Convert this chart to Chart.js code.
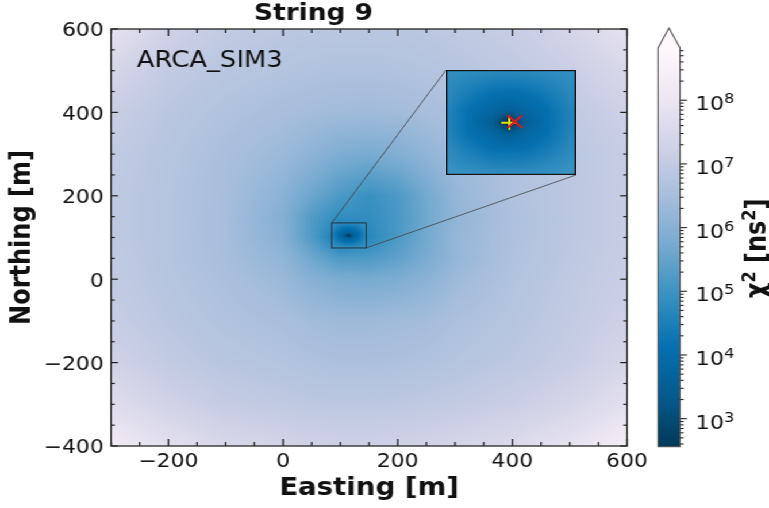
<!DOCTYPE html>
<html>
<head>
<meta charset="utf-8">
<title>String 9</title>
<script src="https://cdn.jsdelivr.net/npm/chart.js@4.4.1/dist/chart.umd.min.js"></script>
<style>
  html, body { margin: 0; padding: 0; background: #fff; overflow: hidden; }
  /* the figure is laid out 669px wide and stretched to fill 769px */
  #figure { position: relative; width: 669px; height: 508px; transform: scale(1.1495, 1); transform-origin: 0 0; }
  #figure canvas { position: absolute; }
</style>
</head>
<body>
<div id="figure">
  <canvas id="main" width="669" height="508" style="left:0;top:0;width:669px;height:508px"></canvas>
  <canvas id="cbar" width="109" height="508" style="left:560px;top:0;width:109px;height:508px"></canvas>
  <canvas id="inset" width="113" height="105" style="left:388px;top:70px;width:113px;height:105px"></canvas>
</div>
<script>
// axes
const xRange = [-300, 600];
const yRange = [-400, 600];
const xTicks = [-200, 0, 200, 400, 600];
const yTicks = [-400, -200, 0, 200, 400, 600];
const minorStep = 50;

// log10(chi2 / ns^2) on the full scan, rows from north to south
const gridX = [-300, -200, -100, 0, 50, 100, 150, 200, 250, 300, 400, 500, 600];
const gridY = [600, 500, 400, 300, 200, 150, 100, 50, 0, -100, -200, -300, -400];
const logChi2 = [
  [7.90, 7.30, 7.00, 6.90, 6.85, 6.85, 6.85, 6.85, 6.88, 6.95, 7.10, 7.40, 7.90],
  [7.45, 7.00, 6.82, 6.72, 6.68, 6.65, 6.65, 6.68, 6.72, 6.78, 6.95, 7.15, 7.50],
  [7.15, 6.85, 6.68, 6.52, 6.45, 6.40, 6.38, 6.42, 6.50, 6.60, 6.80, 6.95, 7.25],
  [7.00, 6.78, 6.55, 6.32, 6.10, 5.85, 5.78, 5.90, 6.15, 6.38, 6.65, 6.85, 7.10],
  [6.95, 6.75, 6.52, 6.05, 5.60, 5.20, 4.95, 5.20, 5.70, 6.20, 6.65, 6.88, 7.10],
  [6.95, 6.75, 6.50, 5.95, 5.25, 4.85, 4.85, 5.15, 5.65, 6.15, 6.62, 6.88, 7.10],
  [6.95, 6.75, 6.50, 6.00, 5.25, 4.30, 4.70, 5.20, 5.70, 6.20, 6.63, 6.88, 7.10],
  [7.00, 6.75, 6.52, 6.15, 5.65, 5.20, 5.20, 5.45, 5.80, 6.20, 6.65, 6.90, 7.12],
  [7.00, 6.78, 6.58, 6.30, 6.00, 5.80, 5.75, 5.85, 6.05, 6.35, 6.70, 6.95, 7.15],
  [7.10, 6.85, 6.68, 6.55, 6.42, 6.35, 6.35, 6.40, 6.45, 6.60, 6.78, 7.00, 7.25],
  [7.30, 7.00, 6.82, 6.72, 6.65, 6.60, 6.60, 6.62, 6.67, 6.75, 6.90, 7.10, 7.45],
  [7.70, 7.30, 7.05, 6.95, 6.90, 6.88, 6.88, 6.90, 6.95, 7.00, 7.15, 7.40, 7.80],
  [8.20, 7.80, 7.50, 7.35, 7.28, 7.25, 7.25, 7.28, 7.32, 7.40, 7.60, 7.90, 8.30]
];

// finer scan around the minimum (zoomed window)
const zoomX = [85, 95, 107, 114, 121, 131, 145];
const zoomY = [135, 120, 112, 105, 98, 90, 75];
const zoomLogChi2 = [
  [4.90, 4.84, 4.78, 4.76, 4.78, 4.83, 4.91],
  [4.76, 4.40, 4.06, 4.02, 4.06, 4.32, 4.79],
  [4.66, 4.15, 3.78, 3.52, 3.78, 4.08, 4.71],
  [4.63, 4.11, 3.45, 2.20, 3.45, 4.04, 4.68],
  [4.69, 4.18, 3.81, 3.55, 3.81, 4.11, 4.74],
  [4.81, 4.45, 4.11, 4.07, 4.11, 4.37, 4.84],
  [5.00, 4.94, 4.88, 4.86, 4.88, 4.93, 5.01]
];

const truePos = [114.2, 104.9];
const fitPos = [116.8, 105.5];

// colour bar
const cbLogRange = [2.56, 8.82];
const cbDecades = [3, 4, 5, 6, 7, 8];

const FONT = "'DejaVu Sans', sans-serif";
const INK = '#111';
const PuBu = ['#fff7fb', '#ece7f2', '#d0d1e6', '#a6bddb', '#74a9cf', '#3690c0', '#0570b0', '#045a8d', '#023858'];
const PuBuRGB = PuBu.map(h => [1, 3, 5].map(i => parseInt(h.slice(i, i + 2), 16)));

// PuBu reversed, log normalised
function chiColor(L) {
  let t = (L - cbLogRange[0]) / (cbLogRange[1] - cbLogRange[0]);
  t = Math.min(1, Math.max(0, t));
  const f = (1 - t) * (PuBuRGB.length - 1);
  const i = Math.min(Math.floor(f), PuBuRGB.length - 2);
  const u = f - i, a = PuBuRGB[i], b = PuBuRGB[i + 1];
  return [a[0] + (b[0] - a[0]) * u, a[1] + (b[1] - a[1]) * u, a[2] + (b[2] - a[2]) * u];
}
const css = c => `rgb(${Math.round(c[0])},${Math.round(c[1])},${Math.round(c[2])})`;

function locate(nodes, v) {
  const n = nodes.length, asc = nodes[n - 1] > nodes[0];
  for (let i = 0; i < n - 1; i++) {
    const a = nodes[i], b = nodes[i + 1];
    if ((asc ? v <= b : v >= b) || i === n - 2) {
      return [i, Math.min(1, Math.max(0, (v - a) / (b - a)))];
    }
  }
}

function sampleGrid(gx, gy, gz, x, y) {
  const [i, u] = locate(gx, x);
  const [j, w] = locate(gy, y);
  const top = gz[j][i] * (1 - u) + gz[j][i + 1] * u;
  const bot = gz[j + 1][i] * (1 - u) + gz[j + 1][i + 1] * u;
  return top * (1 - w) + bot * w;
}

const zx0 = Math.min(...zoomX), zx1 = Math.max(...zoomX);
const zy0 = Math.min(...zoomY), zy1 = Math.max(...zoomY);
const inZoom = (x, y) => x >= zx0 && x <= zx1 && y >= zy0 && y <= zy1;

// rasterise the chi2 map into the chart area through the chart's own scales
function paintField(chart, sampler) {
  const { ctx, chartArea: a, scales: { x, y } } = chart;
  const w = Math.round(a.width), h = Math.round(a.height);
  const off = document.createElement('canvas');
  off.width = w; off.height = h;
  const octx = off.getContext('2d');
  const img = octx.createImageData(w, h);
  for (let j = 0; j < h; j++) {
    const vy = y.getValueForPixel(a.top + (j + 0.5) * a.height / h);
    for (let i = 0; i < w; i++) {
      const vx = x.getValueForPixel(a.left + (i + 0.5) * a.width / w);
      const c = chiColor(sampler(vx, vy));
      const k = (j * w + i) * 4;
      img.data[k] = c[0]; img.data[k + 1] = c[1]; img.data[k + 2] = c[2]; img.data[k + 3] = 255;
    }
  }
  octx.putImageData(img, 0, 0);
  ctx.drawImage(off, a.left, a.top, a.width, a.height);
}

function line(ctx, x0, y0, x1, y1) {
  ctx.beginPath(); ctx.moveTo(x0, y0); ctx.lineTo(x1, y1); ctx.stroke();
}

// text with superscript runs: [[text, isSup], ...]
function runsWidth(ctx, runs, size, supSize, weight) {
  let w = 0;
  for (const [t, sup] of runs) {
    ctx.font = `${weight} ${sup ? supSize : size}px ${FONT}`;
    w += ctx.measureText(t).width;
  }
  return w;
}
function drawRuns(ctx, runs, x, y, size, supSize, rise, weight) {
  for (const [t, sup] of runs) {
    ctx.font = `${weight} ${sup ? supSize : size}px ${FONT}`;
    ctx.fillText(t, x, sup ? y - rise : y);
    x += ctx.measureText(t).width;
  }
}

const mainField = {
  id: 'mainField',
  beforeDatasetsDraw(chart) {
    paintField(chart, (x, y) => inZoom(x, y)
      ? sampleGrid(zoomX, zoomY, zoomLogChi2, x, y)
      : sampleGrid(gridX, gridY, logChi2, x, y));
  },
  afterDatasetsDraw(chart) {
    const { ctx, scales: { x, y } } = chart;
    const inset = document.getElementById('inset');
    const bx0 = x.getPixelForValue(zx0), bx1 = x.getPixelForValue(zx1);
    const by0 = y.getPixelForValue(zy1), by1 = y.getPixelForValue(zy0);
    ctx.save();
    ctx.strokeStyle = 'rgba(35,45,55,0.8)';
    ctx.lineWidth = 1.2;
    ctx.strokeRect(bx0, by0, bx1 - bx0, by1 - by0);
    ctx.strokeStyle = 'rgba(60,60,60,0.75)';
    ctx.lineWidth = 1;
    line(ctx, bx0, by0, inset.offsetLeft, inset.offsetTop);
    line(ctx, bx1, by1, inset.offsetLeft + inset.offsetWidth, inset.offsetTop + inset.offsetHeight);
    ctx.restore();
  },
  afterDraw(chart) {
    const { ctx, chartArea: a, scales: { x, y } } = chart;
    ctx.save();
    ctx.strokeStyle = '#222';
    ctx.lineWidth = 1.3;
    for (let v = xRange[0]; v <= xRange[1]; v += minorStep) {
      const px = x.getPixelForValue(v);
      const len = xTicks.includes(v) ? 7 : 4;
      line(ctx, px, a.bottom, px, a.bottom - len);
      line(ctx, px, a.top, px, a.top + len);
    }
    ctx.lineWidth = 1.2;
    for (let v = yRange[0]; v <= yRange[1]; v += minorStep) {
      const py = y.getPixelForValue(v);
      const len = yTicks.includes(v) ? 6.1 : 3.2;
      line(ctx, a.left, py, a.left + len, py);
      line(ctx, a.right, py, a.right - len, py);
    }
    ctx.lineWidth = 1.3;
    ctx.strokeStyle = '#262626';
    ctx.strokeRect(a.left, a.top, a.width, a.height);
    ctx.fillStyle = INK;
    ctx.font = `22.5px ${FONT}`;
    ctx.textBaseline = 'alphabetic';
    ctx.fillText('ARCA_SIM3', a.left + 22.5, a.top + 37.7);
    ctx.restore();
  }
};

const insetField = {
  id: 'insetField',
  beforeDatasetsDraw(chart) {
    paintField(chart, (x, y) => sampleGrid(zoomX, zoomY, zoomLogChi2, x, y));
  },
  afterDraw(chart) {
    const { ctx, width, height } = chart;
    ctx.save();
    ctx.strokeStyle = '#151515';
    ctx.lineWidth = 1.2;
    ctx.strokeRect(0.6, 0.6, width - 1.2, height - 1.2);
    ctx.restore();
  }
};

const colorbar = {
  id: 'colorbar',
  afterDraw(chart) {
    const { ctx, chartArea: a, scales: { y } } = chart;
    const tip = 20, mid = (a.left + a.right) / 2;
    ctx.save();
    ctx.save();
    ctx.beginPath(); ctx.rect(a.left, a.top, a.width, a.height); ctx.clip();
    for (let py = Math.floor(a.top); py < a.bottom; py++) {
      ctx.fillStyle = css(chiColor(Math.log10(y.getValueForPixel(py + 0.5))));
      ctx.fillRect(a.left, py, a.width, 1.5);
    }
    ctx.restore();
    // extension for values above the top of the scale
    ctx.fillStyle = css(chiColor(cbLogRange[1] + 1));
    ctx.beginPath();
    ctx.moveTo(a.left, a.top); ctx.lineTo(mid, a.top - tip); ctx.lineTo(a.right, a.top); ctx.closePath();
    ctx.fill();
    ctx.strokeStyle = '#555';
    ctx.lineWidth = 1.1;
    ctx.beginPath();
    ctx.moveTo(a.left, a.bottom); ctx.lineTo(a.left, a.top); ctx.lineTo(mid, a.top - tip);
    ctx.lineTo(a.right, a.top); ctx.lineTo(a.right, a.bottom); ctx.closePath();
    ctx.stroke();

    // log ticks on the right edge
    ctx.strokeStyle = '#222';
    ctx.lineWidth = 1.1;
    const lo = Math.floor(cbLogRange[0]), hi = Math.ceil(cbLogRange[1]);
    for (let n = lo; n <= hi; n++) {
      for (let k = 1; k <= 9; k++) {
        const L = n + Math.log10(k);
        if (L < cbLogRange[0] || L > cbLogRange[1]) continue;
        const py = y.getPixelForValue(10 ** L);
        line(ctx, a.right, py, a.right + (k === 1 ? 6.1 : 3), py);
      }
    }
    ctx.fillStyle = INK;
    ctx.textBaseline = 'alphabetic';
    for (const n of cbDecades) {
      const py = y.getPixelForValue(10 ** n);
      drawRuns(ctx, [['10', false], [String(n), true]], a.right + 13.5, py + 10.2, 19.5, 14, 7.2, 'normal');
    }

    // colour bar label, reading upwards
    const runs = [['\u03c7', false], ['2', true], [' [ns', false], ['2', true], [']', false]];
    const w = runsWidth(ctx, runs, 24, 16, 'bold');
    ctx.translate(a.right + 74.5, (a.top + a.bottom) / 2 + 1);
    ctx.rotate(-Math.PI / 2);
    drawRuns(ctx, runs, -w / 2, 0, 24, 16, 9, 'bold');
    ctx.restore();
  }
};

const tickFont = { family: FONT, size: 19 };
const labelFont = { family: FONT, size: 24, weight: 'bold', lineHeight: 1.2 };
const minus = v => String(v).replace('-', '\u2212');
const quiet = { legend: { display: false }, tooltip: { enabled: false } };

new Chart(document.getElementById('main'), {
  type: 'scatter',
  data: { datasets: [] },
  options: {
    responsive: false, animation: false, events: [],
    layout: { autoPadding: false, padding: { left: 0, top: 0, right: 123.5, bottom: 0 } },
    plugins: {
      ...quiet,
      title: {
        display: true, text: 'String 9', color: INK,
        font: { family: FONT, size: 23, weight: 'bold', lineHeight: 1 },
        padding: { top: 3, bottom: 3 }
      }
    },
    scales: {
      x: {
        type: 'linear', min: xRange[0], max: xRange[1],
        grid: { display: false, drawTicks: false }, border: { display: false },
        afterBuildTicks: s => { s.ticks = xTicks.map(v => ({ value: v })); },
        afterFit: s => { s.height = 62; },
        ticks: { color: INK, font: tickFont, padding: 4.7, maxRotation: 0, autoSkip: false, callback: minus },
        title: { display: true, text: 'Easting [m]', color: INK, font: labelFont, padding: { top: 0, bottom: 5.2 } }
      },
      y: {
        type: 'linear', min: yRange[0], max: yRange[1],
        grid: { display: false, drawTicks: false }, border: { display: false },
        afterBuildTicks: s => { s.ticks = yTicks.map(v => ({ value: v })); },
        afterFit: s => { s.width = 96.6; },
        ticks: { color: INK, font: tickFont, padding: 6.3, labelOffset: 2.5, autoSkip: false, callback: minus },
        title: { display: true, text: 'Northing [m]', color: INK, font: labelFont, padding: { top: 5, bottom: 0 } }
      }
    }
  },
  plugins: [mainField]
});

new Chart(document.getElementById('cbar'), {
  type: 'scatter',
  data: { datasets: [] },
  options: {
    responsive: false, animation: false, events: [],
    layout: { autoPadding: false, padding: { left: 12.4, right: 77.4, top: 48, bottom: 61.3 } },
    plugins: quiet,
    scales: {
      x: { type: 'linear', display: false },
      y: { type: 'logarithmic', display: false, min: 10 ** cbLogRange[0], max: 10 ** cbLogRange[1] }
    }
  },
  plugins: [colorbar]
});

new Chart(document.getElementById('inset'), {
  type: 'scatter',
  data: {
    datasets: [
      { data: [{ x: fitPos[0], y: fitPos[1] }], pointStyle: 'crossRot', pointRadius: 9, borderColor: '#e3141c', borderWidth: 2 },
      { data: [{ x: truePos[0], y: truePos[1] }], pointStyle: 'cross', pointRadius: 7, borderColor: '#e4e400', borderWidth: 2 }
    ]
  },
  options: {
    responsive: false, animation: false, events: [],
    layout: { autoPadding: false, padding: 0 },
    plugins: quiet,
    scales: {
      x: { type: 'linear', display: false, min: zx0, max: zx1 },
      y: { type: 'linear', display: false, min: zy0, max: zy1 }
    }
  },
  plugins: [insetField]
});
</script>
</body>
</html>
